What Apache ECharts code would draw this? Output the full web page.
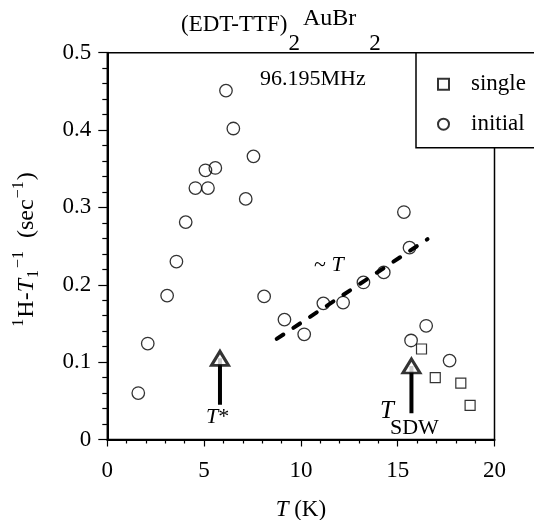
<!DOCTYPE html>
<html lang="en">
<head>
    <meta charset='utf-8' />
    <title>(EDT-TTF)2AuBr2 1H-T1</title>
    <script src="https://cdn.jsdelivr.net/npm/echarts@6/dist/echarts.min.js"></script>
    <style>
        html, body { margin: 0; padding: 0; background: #fff; }
        #chart { width: 534px; height: 520px; }
    </style>
</head>
<body>
<div id="chart"></div>
<script>
    // values: T (K) and 1H-T1^-1 (sec^-1)
    var initialT    = [1.60, 2.09, 3.09, 3.57, 4.05, 4.55, 5.07, 5.20, 5.58, 6.13, 6.51, 7.15, 7.55, 8.10,
                       9.15, 10.17, 11.16, 12.18, 13.23, 14.28, 15.32, 15.61, 15.69, 16.47, 17.68];
    var initialRate = [0.060, 0.124, 0.186, 0.230, 0.281, 0.325, 0.348, 0.325, 0.351, 0.451, 0.402, 0.311, 0.366, 0.185,
                       0.155, 0.136, 0.176, 0.177, 0.203, 0.216, 0.294, 0.248, 0.128, 0.147, 0.102];
    var singleT     = [16.23, 16.94, 18.26, 18.74];
    var singleRate  = [0.117, 0.080, 0.073, 0.044];
    // ~T guide line
    var fitT        = [8.75, 16.54];
    var fitRate     = [0.130, 0.259];
    // arrows for T* and T_SDW: x, tail, head
    var arrowT      = [5.82, 15.71];
    var arrowTail   = [0.045, 0.034];
    var arrowHead   = [0.105, 0.095];

    var xTicks = [0, 5, 10, 15, 20];
    var yTicks = [0, 0.1, 0.2, 0.3, 0.4, 0.5];

    var serif = 'Liberation Serif';

    function pairs(xs, ys) {
        return xs.map(function (x, i) { return [x, ys[i]]; });
    }

    var myChart = echarts.init(document.getElementById('chart'));

    var arrowSeries = [];
    arrowT.forEach(function (t, i) {
        arrowSeries.push({
            type: 'line',
            data: [[t, arrowTail[i]], [t, arrowHead[i]]],
            symbol: 'none',
            lineStyle: { color: '#000', width: 4 },
            silent: true,
            z: 3
        });
    });

    var option = {
        backgroundColor: '#fff',
        animation: false,
        textStyle: { fontFamily: serif, color: '#000' },
        grid: {
            left: 107.3, right: 39.5, top: 52.7, bottom: 80.5,
            show: true, borderColor: '#000', borderWidth: 1.5,
            outerBoundsMode: 'none'
        },
        xAxis: {
            type: 'value', min: xTicks[0], max: xTicks[xTicks.length - 1], interval: 5,
            name: '{i|T} (K)', nameLocation: 'middle', nameGap: 59,
            nameTextStyle: {
                color: '#000', fontFamily: serif, fontSize: 23,
                rich: { i: { fontFamily: serif, fontSize: 23, fontStyle: 'italic', color: '#000' } }
            },
            axisLine: { show: true, onZero: false, lineStyle: { color: '#000', width: 2 } },
            axisTick: { show: true, inside: false, length: 7, lineStyle: { color: '#000', width: 1.2 } },
            minorTick: { show: true, splitNumber: 5, length: 4, lineStyle: { color: '#000', width: 1.2 } },
            axisLabel: { color: '#000', fontFamily: serif, fontSize: 23, margin: 20 },
            splitLine: { show: false }
        },
        yAxis: {
            type: 'value', min: yTicks[0], max: yTicks[yTicks.length - 1], interval: 0.1,
            axisLine: { show: true, onZero: false, lineStyle: { color: '#000', width: 2 } },
            axisTick: { show: true, inside: false, length: 9, lineStyle: { color: '#000', width: 1.2 } },
            minorTick: { show: true, splitNumber: 5, length: 5, lineStyle: { color: '#000', width: 1.2 } },
            axisLabel: { color: '#000', fontFamily: serif, fontSize: 23, margin: 16 },
            splitLine: { show: false }
        },
        legend: {
            data: ['single', 'initial'],
            orient: 'vertical',
            left: 416, top: 52.7,
            padding: [20, 90, 12, 21],
            itemGap: 17,
            itemWidth: 11, itemHeight: 11,
            backgroundColor: '#fff',
            borderColor: '#000', borderWidth: 1.5, borderRadius: 0,
            textStyle: { color: '#000', fontFamily: serif, fontSize: 23, lineHeight: 20, padding: [0, 0, 0, 17] },
            z: 10
        },
        graphic: [
            {
                type: 'text', left: 181, top: 7, z: 10,
                style: {
                    text: '{m|(EDT-TTF)}{s|2}{u|AuBr}{s|2}',
                    fill: '#000',
                    rich: {
                        m: { fontFamily: serif, fontSize: 23, fill: '#000' },
                        s: { fontFamily: serif, fontSize: 23, fill: '#000', padding: [38, 0, 0, 1] },
                        u: { fontFamily: serif, fontSize: 24, fill: '#000', padding: [0, 12, 12, 3] }
                    }
                }
            },
            {
                type: 'text', x: 27, y: 250, rotation: Math.PI / 2, z: 10,
                style: {
                    text: '{p|1}{m|H-}{i|T}{b|1}{p|\u22121}{m|  (sec}{p|\u22121}{m|)}',
                    align: 'center', verticalAlign: 'middle',
                    fill: '#000',
                    rich: {
                        m: { fontFamily: serif, fontSize: 24, fill: '#000' },
                        i: { fontFamily: serif, fontSize: 24, fontStyle: 'italic', fill: '#000' },
                        p: { fontFamily: serif, fontSize: 16, fill: '#000', padding: [0, 1, 16, 1] },
                        b: { fontFamily: serif, fontSize: 16, fill: '#000', padding: [14, 1, 0, 1] }
                    }
                }
            },
            {
                type: 'text', x: 260, y: 79, z: 10,
                style: { text: '96.195MHz', fontFamily: serif, fontSize: 22, fill: '#000', verticalAlign: 'middle' }
            },
            {
                type: 'text', x: 314, y: 265, z: 10,
                style: {
                    text: '~ {i|T}', fontFamily: serif, fontSize: 22, fill: '#000', verticalAlign: 'middle',
                    rich: { i: { fontFamily: serif, fontSize: 22, fontStyle: 'italic', fill: '#000' } }
                }
            },
            {
                type: 'text', x: 206, y: 417, z: 10,
                style: {
                    text: '{i|T}*', fontFamily: serif, fontSize: 22, fill: '#000', verticalAlign: 'middle',
                    rich: { i: { fontFamily: serif, fontSize: 22, fontStyle: 'italic', fill: '#000' } }
                }
            },
            {
                type: 'text', x: 380, y: 411, z: 10,
                style: { text: 'T', fontFamily: serif, fontSize: 25, fontStyle: 'italic', fill: '#000', verticalAlign: 'middle' }
            },
            {
                type: 'text', x: 390, y: 428, z: 10,
                style: { text: 'SDW', fontFamily: serif, fontSize: 22, fill: '#000', verticalAlign: 'middle' }
            }
        ],
        series: [
            {
                name: 'single',
                type: 'scatter',
                data: pairs(singleT, singleRate),
                symbol: 'rect', symbolSize: 10,
                itemStyle: { color: 'rgba(0,0,0,0)', borderColor: '#000', borderWidth: 1.2 },
                z: 4
            },
            {
                name: 'initial',
                type: 'scatter',
                data: pairs(initialT, initialRate),
                symbol: 'circle', symbolSize: 12.5,
                itemStyle: { color: 'rgba(0,0,0,0)', borderColor: '#000', borderWidth: 1.3 },
                z: 4
            },
            {
                name: 'fit',
                type: 'line',
                data: pairs(fitT, fitRate),
                symbol: 'none',
                lineStyle: { color: '#000', width: 4, type: [8, 12], cap: 'round' },
                silent: true,
                z: 2
            }
        ].concat(arrowSeries).concat([
            {
                name: 'arrowhead',
                type: 'scatter',
                data: pairs(arrowT, arrowHead),
                symbol: 'triangle', symbolSize: [17, 14],
                itemStyle: { color: '#fff', borderColor: '#000', borderWidth: 3 },
                silent: true,
                z: 5
            }
        ])
    };

    option && myChart.setOption(option);
</script>
</body>
</html>
